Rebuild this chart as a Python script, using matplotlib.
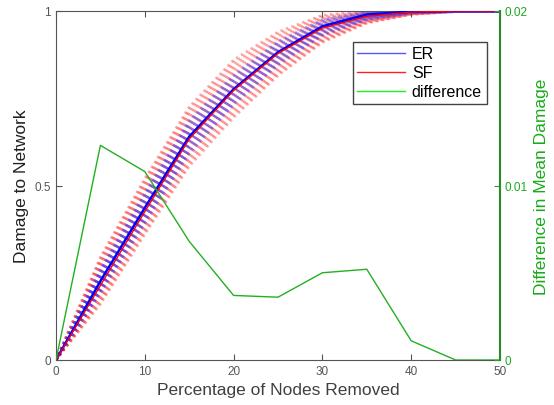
import numpy as np
import matplotlib
matplotlib.use("Agg")
import matplotlib.pyplot as plt
from matplotlib.lines import Line2D

plt.rcParams['font.family'] = ['Liberation Sans', 'DejaVu Sans']

# ---- data ----
pct = [0, 5, 10, 15, 20, 25, 30, 35, 40, 45, 50]
er_mean = [0, 0.226, 0.436, 0.640, 0.776, 0.882, 0.956, 0.990, 0.998, 1.0, 1.0]
difference = [0, 0.0123, 0.0108, 0.0068, 0.0037, 0.0036, 0.0050, 0.0052, 0.0011, 0.0, 0.0]
sf_mean = [e - d for e, d in zip(er_mean, difference)]
# spread of individual trials (band envelopes)
sf_low = [0, 0.160, 0.360, 0.555, 0.695, 0.815, 0.910, 0.965, 0.990, 0.998, 1.0]
sf_high = [0, 0.295, 0.520, 0.725, 0.860, 0.940, 0.988, 1.0, 1.0, 1.0, 1.0]
er_low = [0, 0.192, 0.392, 0.592, 0.732, 0.846, 0.930, 0.975, 0.994, 1.0, 1.0]
er_high = [0, 0.260, 0.478, 0.685, 0.815, 0.912, 0.975, 0.997, 1.0, 1.0, 1.0]

fig = plt.figure(figsize=(5.54, 4.06), dpi=100)
ax = fig.add_axes([56/554, 1-361/406, 444/554, 349/406])

pct_a = np.array(pct, float)

def band(lo, hi, color, n, lw, alpha):
    lo = np.array(lo); hi = np.array(hi)
    for f in np.linspace(0, 1, n):
        ax.plot(pct_a, lo + f*(hi - lo), color=color, alpha=alpha, lw=lw,
                linestyle=(0, (0.9, 1.3)), dash_capstyle='butt', zorder=1)

band(sf_low, sf_high, '#ff3030', 22, 1.9, 0.42)
band(er_low, er_high, '#4040ff', 11, 1.9, 0.5)

ax.plot(pct, er_mean, color='#0000ff', lw=1.8, zorder=3)
ax.plot(pct, sf_mean, color='#ff0000', lw=1.0, zorder=4)

ax.set_xlim(0, 50)
ax.set_ylim(0, 1)
ax.set_xticks([0, 10, 20, 30, 40, 50])
ax.set_yticks([0, 0.5, 1])
ax.set_yticklabels(['0', '0.5', '1'])
ax.tick_params(direction='in', length=4, labelsize=8.5, colors='#555555',
               top=True, right=False)
for s in ['left', 'bottom', 'top']:
    ax.spines[s].set_color('#555555')
ax.spines['right'].set_visible(False)
ax.set_xlabel('Percentage of Nodes Removed', fontsize=12.5, color='#404040')
ax.set_ylabel('Damage to Network', fontsize=12.5, color='#202020')

ax2 = ax.twinx()
ax2.plot(pct, difference, color='#22b022', lw=1.0, zorder=2)
ax2.set_ylim(0, 0.02)
ax2.set_xlim(0, 50)
ax2.set_yticks([0, 0.01, 0.02])
ax2.set_yticklabels(['0', '0.01', '0.02'])
ax2.tick_params(axis='y', direction='in', length=4, labelsize=8.5,
                colors='#1aaa1a')
for s in ['left', 'bottom', 'top']:
    ax2.spines[s].set_visible(False)
ax2.spines['right'].set_color('#2a8a2a')
ax2.spines['right'].set_linewidth(1.5)
ax2.set_ylabel('Difference in Mean Damage', fontsize=12.5, color='#1aaa1a')

handles = [Line2D([], [], color='#5555ff', lw=1),
           Line2D([], [], color='#ff2020', lw=1),
           Line2D([], [], color='#22ee22', lw=1)]
leg = ax2.legend(handles, ['ER', 'SF', 'difference'], loc='upper right',
                 bbox_to_anchor=(0.988, 0.935), fontsize=11.5, fancybox=False,
                 edgecolor='#444444', framealpha=1, handlelength=3,
                 borderpad=0.3, labelspacing=0.25, handletextpad=0.4)
leg.get_frame().set_linewidth(1.0)

fig.savefig('out.png', dpi=100)
